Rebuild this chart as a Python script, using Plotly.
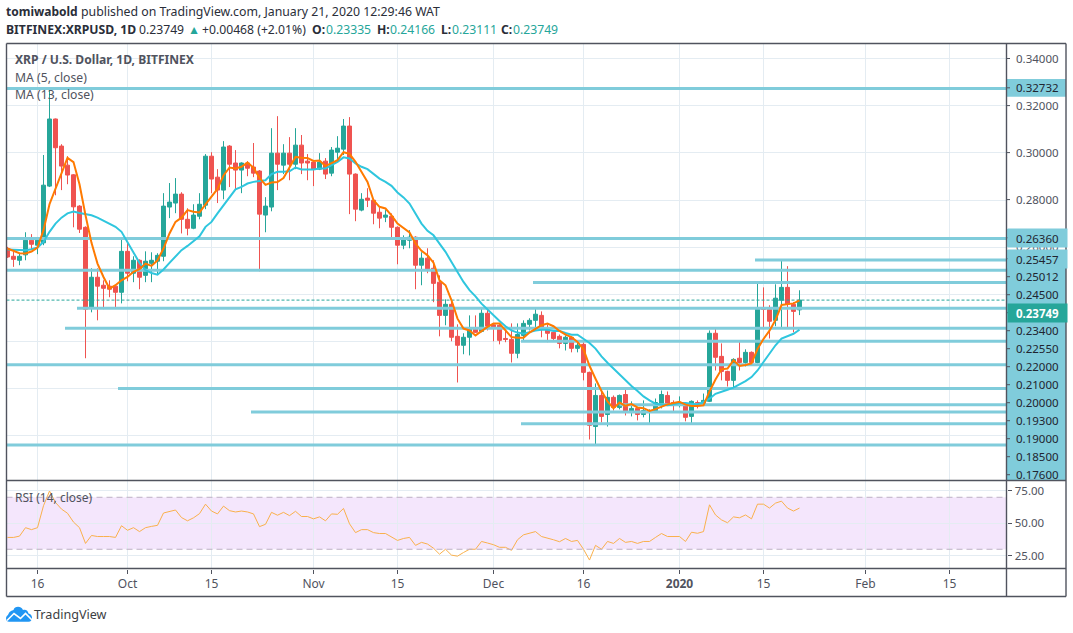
import pandas as pd
import plotly.graph_objects as go

W, H = 1073, 633

dates = pd.date_range("2019-09-11", periods=133, freq="D")

opens = [.2594,.2561,.2544,.2567,.2629,.2608,.2618,.2859,.3144,.3029,.2948,.2907,.2774,.2684,.2340,.2472,.2438,.2434,.2434,.2408,.2582,.2489,.2544,.2480,.2531,.2540,.2561,.2770,.2787,.2825,.2718,.2680,.2731,.2778,.2986,.2897,.2842,.3029,.2957,.2927,.2957,.2940,.2923,.2736,.2770,.2999,.2948,.2999,.2952,.3033,.2965,.2961,.2931,.2965,.2914,.3003,.3016,.3114,.2910,.2757,.2808,.2799,.2748,.2727,.2731,.2684,.2608,.2629,.2642,.2523,.2553,.2510,.2451,.2310,.2357,.2221,.2183,.2217,.2252,.2242,.2319,.2270,.2268,.2212,.2208,.2149,.2225,.2272,.2289,.2310,.2255,.2238,.2221,.2191,.2217,.2170,.2187,.2068,.1838,.1970,.1889,.1962,.1919,.1974,.1898,.1915,.1889,.1898,.1906,.1932,.1970,.1940,.1928,.1932,.1881,.1940,.1936,.1945,.2234,.2136,.2072,.2034,.2128,.2110,.2153,.2110,.2340,.2336,.2289,.2374,.2429,.2357,.23335]
highs = [.2601,.2580,.2573,.2663,.2655,.2643,.2991,.3275,.3146,.3037,.2986,.2910,.2778,.2688,.2510,.2510,.2459,.2459,.2438,.2633,.2621,.2561,.2548,.2582,.2578,.2574,.2829,.2872,.2893,.2833,.2765,.2782,.2829,.2995,.3003,.2931,.3050,.3033,.3012,.2960,.2965,.3042,.2927,.2812,.3105,.3156,.3037,.3067,.3105,.3076,.2995,.2965,.2999,.2978,.3025,.3071,.3144,.3152,.2913,.2829,.2850,.2803,.2768,.2757,.2743,.2688,.2650,.2672,.2646,.2578,.2595,.2544,.2480,.2378,.2374,.2272,.2234,.2310,.2310,.2344,.2336,.2275,.2272,.2255,.2276,.2276,.2289,.2298,.2340,.2327,.2272,.2246,.2229,.2225,.2220,.2204,.2196,.2071,.2021,.1991,.1991,.1970,.1974,.1996,.1945,.1919,.1949,.1911,.1957,.1991,.1987,.1949,.1966,.1936,.1949,.1949,.1978,.2246,.2259,.2191,.2075,.2128,.2200,.2166,.2157,.2446,.2429,.2353,.2442,.2548,.2519,.2366,.24166]
lows = [.2554,.2516,.2523,.2544,.2591,.2570,.2608,.2855,.2820,.2842,.2867,.2684,.2660,.2128,.2323,.2289,.2336,.2387,.2344,.2361,.2455,.2451,.2421,.2451,.2451,.2485,.2540,.2723,.2744,.2658,.2650,.2676,.2718,.2761,.2829,.2787,.2803,.2855,.2846,.2829,.2901,.2897,.2497,.2663,.2752,.2842,.2910,.2884,.2931,.2910,.2884,.2859,.2927,.2889,.2901,.2961,.2991,.2740,.2710,.2752,.2770,.2697,.2680,.2706,.2638,.2527,.2591,.2595,.2421,.2438,.2489,.2366,.2221,.2268,.2200,.2025,.2145,.2140,.2236,.2238,.2246,.2200,.2187,.2196,.2110,.2128,.2204,.2246,.2246,.2217,.2196,.2200,.2170,.2161,.2153,.2153,.2034,.1783,.1758,.1855,.1838,.1906,.1911,.1885,.1881,.1864,.1877,.1847,.1902,.1915,.1928,.1898,.1919,.1860,.1847,.1915,.1936,.1942,.2076,.2034,.2008,.2004,.2076,.2093,.2098,.2106,.2251,.2212,.2264,.2259,.2259,.2238,.23111]
closes = [.2558,.2548,.2561,.2629,.2612,.2629,.2863,.3144,.3022,.2944,.2906,.2771,.2676,.2336,.2472,.2434,.2425,.2421,.2408,.2582,.2489,.2544,.2472,.2540,.2544,.2565,.2774,.2791,.2825,.2718,.2680,.2736,.2782,.2986,.2889,.2842,.3025,.2952,.2927,.2957,.2935,.2914,.2740,.2774,.2999,.2952,.2999,.2952,.3033,.2957,.2957,.2931,.2961,.2910,.3012,.3020,.3114,.2910,.2761,.2803,.2799,.2744,.2723,.2736,.2684,.2608,.2638,.2642,.2523,.2553,.2506,.2446,.2310,.2357,.2217,.2183,.2217,.2255,.2238,.2319,.2264,.2259,.2204,.2208,.2149,.2229,.2276,.2289,.2315,.2251,.2234,.2212,.2191,.2217,.2170,.2183,.2068,.1843,.1970,.1881,.1962,.1919,.1970,.1902,.1915,.1889,.1906,.1906,.1940,.1974,.1932,.1936,.1936,.1877,.1945,.1932,.1949,.2234,.2132,.2072,.2034,.2123,.2110,.2153,.2110,.2340,.2336,.2285,.2383,.2429,.2357,.2327,.23749]

ma5 = [.2594,.2584,.2574,.2573,.2581,.2598,.2672,.2782,.2845,.2913,.2979,.2961,.2867,.2735,.2618,.2530,.2473,.2424,.2438,.2459,.2473,.2495,.2506,.2530,.2520,.2544,.2594,.2658,.2707,.2725,.2757,.2750,.2747,.2781,.2815,.2847,.2904,.2938,.2934,.2941,.2959,.2937,.2894,.2864,.2874,.2876,.2893,.2935,.2983,.2979,.2978,.2966,.2968,.2944,.2955,.2969,.3003,.2996,.2962,.2921,.2877,.2799,.2771,.2764,.2735,.2700,.2679,.2662,.2615,.2584,.2565,.2534,.2459,.2438,.2374,.2296,.2254,.2246,.2225,.2244,.2261,.2275,.2275,.2246,.2218,.2215,.2215,.2237,.2254,.2268,.2275,.2264,.2244,.2228,.2218,.2197,.2166,.2096,.2041,.1989,.1945,.1915,.1940,.1926,.1933,.1919,.1916,.1904,.1912,.1923,.1932,.1938,.1943,.1931,.1925,.1925,.1928,.1987,.2038,.2081,.2084,.2119,.2095,.2099,.2106,.2167,.2210,.2245,.2290,.2354,.2359,.2361,.2374]
ma13 = [.2590,.2588,.2587,.2587,.2591,.2598,.2622,.2665,.2700,.2725,.2743,.2751,.2745,.2740,.2735,.2725,.2711,.2697,.2686,.2665,.2622,.2575,.2533,.2502,.2490,.2483,.2505,.2533,.2561,.2587,.2605,.2626,.2646,.2686,.2707,.2743,.2778,.2813,.2845,.2856,.2870,.2877,.2880,.2884,.2910,.2920,.2920,.2922,.2938,.2930,.2930,.2930,.2934,.2934,.2948,.2962,.2981,.2976,.2955,.2941,.2931,.2910,.2891,.2877,.2860,.2832,.2811,.2785,.2743,.2700,.2669,.2650,.2615,.2580,.2537,.2495,.2452,.2417,.2391,.2360,.2334,.2310,.2286,.2264,.2246,.2237,.2232,.2239,.2246,.2249,.2249,.2244,.2244,.2235,.2228,.2228,.2211,.2193,.2169,.2136,.2109,.2084,.2062,.2037,.2010,.1989,.1966,.1949,.1935,.1932,.1928,.1932,.1938,.1938,.1935,.1932,.1942,.1956,.1977,.1987,.1994,.2003,.2016,.2031,.2048,.2076,.2112,.2147,.2183,.2211,.2221,.2232,.2249]
rsi = [39.1,39.1,40.1,46.6,45.1,46.6,63.5,74.8,66,60.9,57.7,50.9,46.6,34.5,40.6,39.8,39.8,39.8,39.1,48.1,44.6,46.6,43.6,46.6,47.6,48.4,57.9,58.9,60.2,54.4,51.9,54.2,57.4,64.7,59.4,57.2,63.2,59.7,58.7,59.4,58.7,57.2,47.4,49.2,58.4,56.2,58.4,55.9,59.2,55.2,55.2,53.4,54.9,51.9,57.2,56.9,61.4,49.6,42.8,45.1,45.1,42.8,42.1,42.1,39.6,36.8,38.3,39.1,33,35.3,34,30.8,26.2,30,25.5,24.7,27.5,30,30,36,34.8,33.5,31.5,31.5,29.2,37.3,41.1,42.3,43.6,39.8,38.8,37.3,35.8,38.3,36,36.8,30,21.7,33,30,36,34.5,38.3,35.3,36,34.5,36,36,39.1,42.1,39.8,39.8,39.8,36,43.1,42.3,43.6,64.2,56.4,52.6,50.4,54.9,54.2,56.4,53.4,64.7,64.7,61.7,65.5,67,61.7,59.4,61.7]

level_prices = [.32732,.26360,.25457,.25012,.24500,.23400,.22550,.22000,.21000,.20000,.19300,.19000,.18500,.17600]
level_starts = [None,None,"2020-01-13T14:00",None,"2019-12-07T14:00","2019-09-22T14:00","2019-09-20T14:00","2019-12-05T14:00",None,"2019-09-29T10:00","2019-12-22T00:00","2019-10-21T14:00","2019-12-05T14:00",None]

month_ticks = ["2019-09-16","2019-10-01","2019-10-15","2019-11-01","2019-11-15","2019-12-01","2019-12-16","2020-01-01","2020-01-15","2020-02-01","2020-02-15"]
month_labels = ["16","Oct","15","Nov","15","Dec","16","<b>2020</b>","15","Feb","15"]
price_grid = [.18,.20,.22,.24,.26,.28,.30,.32,.34]
rsi_ticks = [25,50,75]
rsi_labels = ["25.00","50.00","75.00"]

axis_text = ["0.34000","0.32732","0.32000","0.30000","0.28000","0.26000","0.26360","0.25457","0.25012","0.24500","0.23749","0.23400","0.22550","0.22000","0.21000","0.20000","0.19300","0.19000","0.18500","0.17600"]
axis_rows = [58.5,87.8,105.6,152.6,199.6,246.0,237.8,258.7,276.7,294.7,312.7,330.7,348.7,366.7,384.7,402.7,420.7,438.7,456.7,474.7]

GREEN, RED = "#26a69a", "#ef5350"
TEAL = "#80ccdb"
FRAME = "#50535e"
TXT = "#50535e"
GRID = "#e4ecf2"
FONT = "Noto Sans"
X_END = "2020-02-24T12:00"
X_START = "2019-09-10T20:00"


def fx(p):
    return p / W


def fy(p):
    return 1 - p / H


def pt(x, y):
    return f"{fx(x)},{fy(y)}"


fig = go.Figure()

for price, start in zip(level_prices, level_starts):
    fig.add_trace(go.Scatter(x=[start or X_START, X_END], y=[price, price], mode="lines",
                             line=dict(color=TEAL, width=3), hoverinfo="skip", showlegend=False))

fig.add_trace(go.Scatter(x=[X_START, X_END], y=[closes[-1], closes[-1]], mode="lines",
                         line=dict(color=GREEN, width=1, dash="3px 2px"), hoverinfo="skip", showlegend=False))

fig.add_trace(go.Candlestick(x=dates, open=opens, high=highs, low=lows, close=closes,
                             increasing=dict(line=dict(color=GREEN, width=1), fillcolor=GREEN),
                             decreasing=dict(line=dict(color=RED, width=1), fillcolor=RED),
                             whiskerwidth=0, hoverinfo="skip", showlegend=False))

fig.add_trace(go.Scatter(x=dates, y=ma13, mode="lines", line=dict(color="#2fc6de", width=2),
                         hoverinfo="skip", showlegend=False))
fig.add_trace(go.Scatter(x=dates, y=ma5, mode="lines", line=dict(color="#ff7a00", width=2),
                         hoverinfo="skip", showlegend=False))

fig.add_trace(go.Scatter(x=dates, y=rsi, mode="lines", xaxis="x2", yaxis="y2",
                         line=dict(color="#f9b04c", width=1), hoverinfo="skip", showlegend=False))

shapes = []
# RSI band
shapes.append(dict(type="rect", xref="x2", yref="y2", x0=X_START, x1=X_END, y0=30, y1=70,
                   fillcolor="rgba(155,39,226,0.115)", line_width=0, layer="below"))
for lvl in (30, 70):
    shapes.append(dict(type="line", xref="x2", yref="y2", x0=X_START, x1=X_END, y0=lvl, y1=lvl,
                       line=dict(color="#bdb0c4", width=1, dash="6px 4px"), layer="above"))

# price scale backgrounds
for top, bottom in ((79, 96.8), (229, 246.8), (250, 480)):
    shapes.append(dict(type="rect", xref="paper", yref="paper", x0=fx(1006.5), x1=fx(1066), y0=fy(bottom), y1=fy(top),
                       fillcolor=TEAL, line_width=0, layer="above"))

# price scale tick marks
for row, txt in zip(axis_rows, axis_text):
    if txt != "0.26000":
        shapes.append(dict(type="line", xref="paper", yref="paper", x0=fx(1007), x1=fx(1010), y0=fy(row), y1=fy(row),
                           line=dict(color=FRAME, width=1), layer="above"))

# frame
for x0, y0, x1, y1 in ((6.5, 43.5, 1066, 43.5), (6.5, 596.5, 1066, 596.5), (6.5, 43.5, 6.5, 596.5),
                       (1066, 43.5, 1066, 596.5), (1006.5, 43.5, 1006.5, 596.5),
                       (6.5, 480.5, 1066, 480.5), (6.5, 568.5, 1066, 568.5)):
    shapes.append(dict(type="line", xref="paper", yref="paper", x0=fx(x0), x1=fx(x1), y0=fy(y0), y1=fy(y1),
                       line=dict(color=FRAME, width=1.4), layer="above"))

# logo: cloud with a white zigzag
shapes.append(dict(type="path", xref="paper", yref="paper", layer="above", fillcolor="#2196f3", line_width=0,
                   path=f"M {pt(9, 621.8)} C {pt(5.5, 621.8)} {pt(5, 616.5)} {pt(8, 615)} "
                        f"C {pt(9.5, 611)} {pt(12, 610.5)} {pt(13.5, 610)} C {pt(14.5, 606)} {pt(21, 605.5)} {pt(23, 610)} "
                        f"C {pt(26, 609)} {pt(28, 611)} {pt(28.5, 613.5)} C {pt(33, 614)} {pt(33.5, 621.8)} {pt(28.5, 621.8)} Z"))
shapes.append(dict(type="path", xref="paper", yref="paper", layer="above", line=dict(color="white", width=1.6),
                   path=f"M {pt(7, 620.5)} L {pt(14, 613.5)} L {pt(20.5, 618.5)} L {pt(25.5, 613.5)} L {pt(32, 620)}"))

ann = []


def note(x, y, text, size=12, color=TXT, **kw):
    ann.append(dict(xref="paper", yref="paper", x=fx(x - 1), y=fy(y), text=text, showarrow=False, xanchor="left",
                    yanchor="middle", align="left", borderpad=0,
                    font=dict(family=FONT, size=size, color=color), **kw))


G = GREEN
DARK = "#2a2e39"
note(6, 12, "<b>tomiwabold</b>", 12, DARK)
note(81, 12, "published on TradingView.com, January 21, 2020 12:29:46 WAT", 12.3, DARK)
for hx, htext, hcolor in ((6, "<b>BITFINEX:XRPUSD, 1D</b>", DARK), (139, "0.23749", DARK), (187.5, "▲", G),
                          (202, "+0.00468 (+2.01%)", DARK), (312, "<b>O:</b>", DARK), (326, "0.23335", G),
                          (377, "<b>H:</b>", DARK), (390, "0.24166", G), (441, "<b>L:</b>", DARK), (452, "0.23111", G),
                          (501, "<b>C:</b>", DARK), (513, "0.23749", G)):
    note(hx, 29.5, htext, 12.2, hcolor)
note(15, 60, "<b>XRP / U.S. Dollar, 1D, BITFINEX</b>", 12.1)
note(15, 77.5, "MA (5, close)", 12.2)
note(15, 95, "MA (13, close)", 12.2)
note(15, 497, "RSI (14, close)", 12)
note(34, 614.5, "TradingView", 12.6, "#3c4043")

for row, txt in zip(axis_rows, axis_text):
    if txt == "0.23749":
        continue
    colored = row >= 237 or row == 87.8
    if txt in ("0.26360", "0.25457"):
        ann.append(dict(xref="paper", yref="paper", x=fx(1006.5), y=fy(row), text=txt, showarrow=False,
                        xanchor="left", yanchor="middle", borderpad=0, bgcolor=TEAL, width=59, height=18, align="center",
                        font=dict(family=FONT, size=11.5, color="#1f2530")))
        continue
    note(1015.5, row, txt, 11.5, "#1f2530" if colored and txt != "0.26000" else TXT)
ann.append(dict(xref="paper", yref="paper", x=fx(1006.5), y=fy(312.7), text="<b>0.23749</b>", showarrow=False,
                xanchor="left", yanchor="middle", borderpad=0, bgcolor=GREEN, width=59, height=18, align="center",
                font=dict(family=FONT, size=11.5, color="white")))

fig.update_layout(
    width=W, height=H, margin=dict(l=0, r=0, t=0, b=0), paper_bgcolor="white", plot_bgcolor="white",
    showlegend=False, shapes=shapes, annotations=ann, hovermode=False, dragmode=False, boxgap=0.05,
    xaxis=dict(domain=[fx(6.5), fx(1006.5)], range=[X_START, X_END], type="date", tickvals=month_ticks,
               showticklabels=False, ticks="", showgrid=True, gridcolor=GRID, gridwidth=1, rangeslider=dict(visible=False),
               anchor="y", zeroline=False, showline=False),
    yaxis=dict(domain=[fy(480.5), fy(43.5)], range=[0.16088, 0.34646], tickvals=price_grid, showticklabels=False,
               ticks="", showgrid=True, gridcolor=GRID, gridwidth=1, zeroline=False, showline=False, anchor="x"),
    xaxis2=dict(domain=[fx(6.5), fx(1006.5)], range=[X_START, X_END], type="date", tickvals=month_ticks,
                ticktext=month_labels, ticks="outside", ticklen=4, tickcolor=FRAME, showgrid=True, gridcolor=GRID,
                gridwidth=1, anchor="y2", zeroline=False, showline=False, matches="x",
                tickfont=dict(family=FONT, size=12, color=TXT), ticklabelstandoff=0, tickangle=0),
    yaxis2=dict(domain=[fy(568.5), fy(480.5)], range=[15.2, 82.9], tickvals=rsi_ticks, ticktext=rsi_labels,
                side="right", ticks="outside", ticklen=4, tickcolor=FRAME, showgrid=True, gridcolor=GRID, gridwidth=1,
                anchor="x2", zeroline=False, showline=False, tickfont=dict(family=FONT, size=11.5, color=TXT),
                ticklabelstandoff=1),
)

fig.write_html("out.html", config={"displayModeBar": False},
               post_script="document.body.style.margin='0';document.body.style.overflow='hidden';")
